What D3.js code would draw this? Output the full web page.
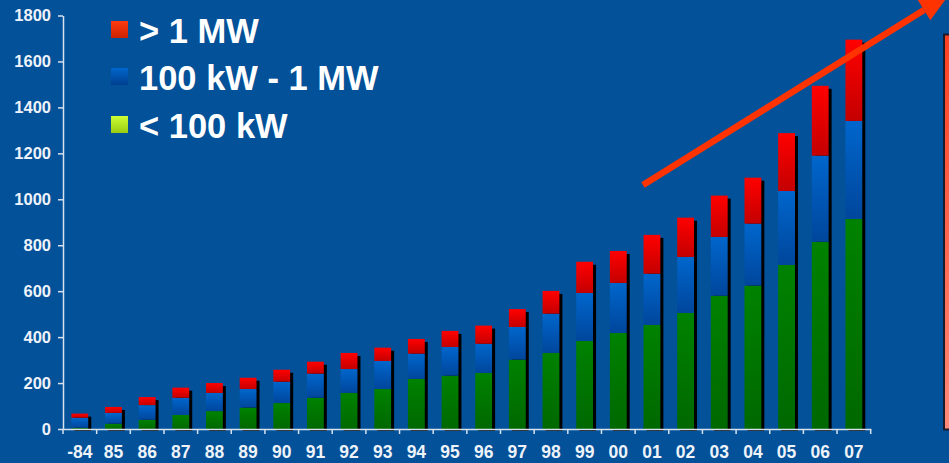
<!DOCTYPE html>
<html>
<head>
<meta charset="utf-8">
<script src="https://cdn.jsdelivr.net/npm/d3@7"></script>
<style>
html,body{margin:0;padding:0;background:#025199;}
svg{display:block;}
text{font-family:"Liberation Sans",Arial,sans-serif;font-weight:bold;}
</style>
</head>
<body>
<svg id="chart" width="949" height="463"></svg>
<script>
const years = ["-84","85","86","87","88","89","90","91","92","93","94","95","96","97","98","99","00","01","02","03","04","05","06","07"];
const small = [5,23,40,61,78,93,113,136,157,174,218,232,244,302,331,383,418,453,505,580,624,714,815,914];
const medium = [44,47,64,75,79,81,93,105,104,122,110,125,127,142,171,209,218,223,244,256,270,322,375,427];
const large = [18,26,35,44,43,49,52,52,70,58,64,70,79,78,99,136,139,169,171,180,200,252,304,354];
const yTicks = [0,200,400,600,800,1000,1200,1400,1600,1800];
const legendLabels = ["> 1 MW","100 kW - 1 MW","< 100 kW"];

const svg = d3.select("#chart");
const W = 949, H = 463;
svg.append("rect").attr("width",W).attr("height",H).attr("fill","#025199");

const defs = svg.append("defs");
function grad(id, c1, c2){
  const g = defs.append("linearGradient").attr("id",id).attr("x1",0).attr("y1",0).attr("x2",0).attr("y2",1);
  g.append("stop").attr("offset","0%").attr("stop-color",c1);
  g.append("stop").attr("offset","100%").attr("stop-color",c2);
}
grad("gRed","#ff0000","#c40000");
grad("gBlue","#0066cc","#00469c");
grad("gGreen","#008200","#006800");
grad("lRed","#ff3a10","#cc2200");
grad("lBlue","#0066cc","#003f8f");
grad("lGreen","#ccff33","#99cc11");
grad("boxG","#ff4020","#ff8a78");

const x = d3.scaleBand().domain(years).range([63,870.7]).paddingInner(0).paddingOuter(0);
const y = d3.scaleLinear().domain([0,1800]).range([429,15.5]);

const data = years.map((yr,i)=>({year:yr, small:small[i], medium:medium[i], large:large[i]}));
const keys = ["small","medium","large"];
const stack = d3.stack().keys(keys)(data);
const fills = {small:"url(#gGreen)", medium:"url(#gBlue)", large:"url(#gRed)"};

const bw = x.bandwidth()*0.5;
const off = (x.bandwidth()-bw)/2;

// shadows
svg.append("g").selectAll("rect").data(data).join("rect")
  .attr("x", d=>x(d.year)+off+3)
  .attr("y", d=>y(d.small+d.medium+d.large)+3)
  .attr("width", bw)
  .attr("height", d=>431 - (y(d.small+d.medium+d.large)+3))
  .attr("fill","#000");

// bars
stack.forEach(layer=>{
  svg.append("g").selectAll("rect").data(layer).join("rect")
    .attr("x", d=>x(d.data.year)+off)
    .attr("y", d=>y(d[1]))
    .attr("width", bw)
    .attr("height", d=>y(d[0])-y(d[1]))
    .attr("fill", fills[layer.key]);
});

// y axis
const yAxis = svg.append("g").attr("transform","translate(63,0)")
  .call(d3.axisLeft(y).tickValues(yTicks).tickFormat(d3.format("d")).tickSize(5).tickSizeOuter(0).tickPadding(7));
yAxis.select(".domain").attr("stroke","#d8e2ee").attr("stroke-width",1.5);
yAxis.selectAll(".tick line").attr("stroke","#d8e2ee").attr("stroke-width",1.5);
yAxis.selectAll(".tick text").attr("fill","#eef3f9").style("font-size","16.5px").attr("font-family","Liberation Sans, Arial, sans-serif").attr("font-weight","bold");

// x axis
const xAxis = svg.append("g").attr("transform","translate(0,429)")
  .call(d3.axisBottom(x).tickSize(0).tickSizeOuter(0).tickPadding(17));
xAxis.select(".domain").attr("stroke","#d8e2ee").attr("stroke-width",1.5);
xAxis.selectAll(".tick text").attr("fill","#eef3f9").style("font-size","17.5px").attr("font-family","Liberation Sans, Arial, sans-serif").attr("font-weight","bold");
const bounds = years.map(d=>x(d)).concat([x(years[years.length-1])+x.step()]);
xAxis.append("g").selectAll("line").data(bounds).join("line")
  .attr("x1",d=>d).attr("x2",d=>d).attr("y1",0).attr("y2",5)
  .attr("stroke","#d8e2ee").attr("stroke-width",1.5);

// legend
const legFills = ["url(#lRed)","url(#lBlue)","url(#lGreen)"];
const legY = [43,90,138];
const leg = svg.append("g");
legendLabels.forEach((t,i)=>{
  leg.append("rect").attr("x",111).attr("y",legY[i]-22).attr("width",17).attr("height",17).attr("fill",legFills[i]);
  leg.append("text").attr("x",139).attr("y",legY[i]).attr("fill","#ffffff").style("font-size","34.5px").text(t);
});

// arrow
const p0 = [643,185], base = [924,10];
const dx = base[0]-p0[0], dy = base[1]-p0[1];
const len = Math.hypot(dx,dy); const ux = dx/len, uy = dy/len;
const nx = -uy, ny = ux;
svg.append("line").attr("x1",p0[0]).attr("y1",p0[1]).attr("x2",base[0]).attr("y2",base[1])
  .attr("stroke","#ff3300").attr("stroke-width",6.5);
const tip = [base[0]+30*ux, base[1]+30*uy];
svg.append("polygon").attr("points",[
  [base[0]+12*nx, base[1]+12*ny], tip, [base[0]-12*nx, base[1]-12*ny]
].map(p=>p.join(",")).join(" ")).attr("fill","#ff3300");

// right box (clipped)
svg.append("rect").attr("x",944).attr("y",34.5).attr("width",20).attr("height",395)
  .attr("fill","url(#boxG)").attr("stroke","#1a1a2a").attr("stroke-width",2);
</script>
</body>
</html>
